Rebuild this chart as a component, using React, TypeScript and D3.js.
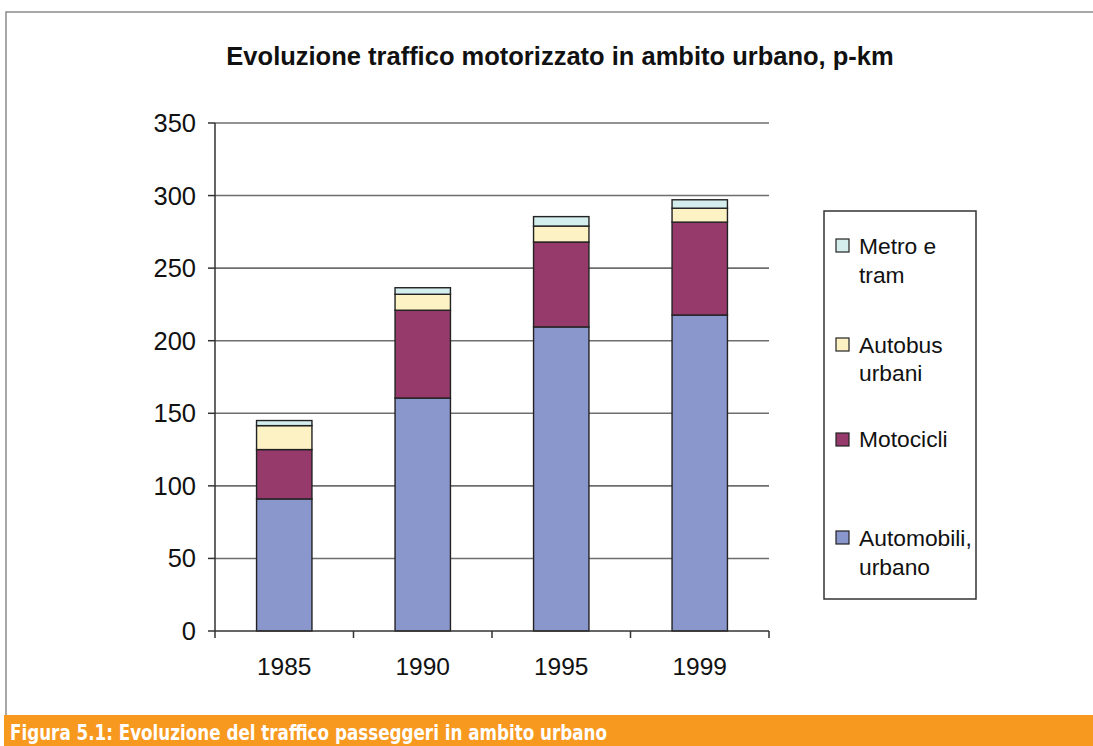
import React from "react";
import * as d3 from "d3";

const years = ["1985", "1990", "1995", "1999"];
const automobili = [91, 160.5, 209.5, 217.7];
const motocicli = [34, 60.5, 58.5, 64];
const autobus = [16.5, 11, 11, 9.6];
const metro = [3.5, 4.5, 6.5, 5.8];
const yTicks = [0, 50, 100, 150, 200, 250, 300, 350];
const seriesNames = ["Automobili, urbano", "Motocicli", "Autobus urbani", "Metro e tram"];
const legendLines = [["Metro e", "tram"], ["Autobus", "urbani"], ["Motocicli"], ["Automobili,", "urbano"]];
const colors = ["#8A97CD", "#953A6B", "#FCF2C3", "#D4EEEE"];

const W = 1093, H = 746;
const left = 215, right = 769, top = 123, bottom = 631;

export default function App() {
  const x = d3.scaleBand<string>().domain(years).range([left, right]).paddingInner(0).paddingOuter(0);
  const y = d3.scaleLinear().domain([0, 350]).range([bottom, top]);
  const rows = years.map((yr, i) => ({ year: yr, a: automobili[i], m: motocicli[i], b: autobus[i], t: metro[i] }));
  const stack = d3.stack<any>().keys(["a", "m", "b", "t"])(rows);
  const bw = x.bandwidth() * 0.4;
  const font = "'Liberation Sans', Arial, sans-serif";
  const legendY = [[246, 275], [345, 373], [439], [538, 567]];
  const swatchY = [246, 345, 440, 538];
  const legendOrder = [3, 2, 1, 0];
  return (
    <svg width={W} height={H} style={{ position: "absolute", left: 0, top: 0 }} fontFamily={font}>
      <rect x={0} y={0} width={W} height={H} fill="#fff" />
      <rect x={6} y={12} width={1100} height={720} fill="none" stroke="#8a8a8a" strokeWidth={1.5} />
      <text x={560} y={65} textAnchor="middle" fontWeight="bold" fontSize={25.5} fill="#111">
        Evoluzione traffico motorizzato in ambito urbano, p-km
      </text>
      {yTicks.filter(v => v > 0).map(v => (
        <line key={v} x1={left} x2={right} y1={y(v)} y2={y(v)} stroke="#6e6e6e" strokeWidth={1.6} />
      ))}
      {stack.map((s, si) => (
        <g key={si}>
          {s.map((d, i) => (
            <rect key={i} x={x(years[i])! + (x.bandwidth() - bw) / 2} width={bw}
              y={y(d[1])} height={y(d[0]) - y(d[1])}
              fill={colors[si]} stroke="#222" strokeWidth={1.4} />
          ))}
        </g>
      ))}
      <line x1={left} x2={left} y1={top} y2={bottom} stroke="#333" strokeWidth={1.5} />
      <line x1={left} x2={right} y1={bottom} y2={bottom} stroke="#333" strokeWidth={1.5} />
      {yTicks.map(v => (
        <g key={v}>
          <line x1={left - 7} x2={left} y1={y(v)} y2={y(v)} stroke="#333" strokeWidth={1.5} />
          <text x={196} y={y(v) + 9} textAnchor="end" fontSize={25.5} fill="#111">{v}</text>
        </g>
      ))}
      {[...years.map(yr => x(yr)!), right].map((px, i) => (
        <line key={i} x1={px} x2={px} y1={bottom} y2={bottom + 7} stroke="#333" strokeWidth={1.5} />
      ))}
      {years.map(yr => (
        <text key={yr} x={x(yr)! + x.bandwidth() / 2} y={675} textAnchor="middle" fontSize={24.5} fill="#111">{yr}</text>
      ))}
      <rect x={824} y={211} width={152} height={388} fill="#fff" stroke="#333" strokeWidth={1.5} />
      {legendOrder.map((si, li) => (
        <g key={si}>
          <rect x={836} y={swatchY[li] - 7} width={13} height={13} fill={colors[si]} stroke="#222" strokeWidth={1.2} />
          {legendLines[li].map((ln, k) => (
            <text key={k} x={859} y={legendY[li][k] + 8} fontSize={22.8} fill="#111">{ln}</text>
          ))}
        </g>
      ))}
      <rect x={4} y={715} width={W} height={31} fill="#F8991F" />
      <text x={10} y={740} fill="#fff" fontWeight="bold" fontSize={21}
        fontFamily="'DejaVu Sans Condensed', 'DejaVu Sans', sans-serif" style={{ fontStretch: "condensed" }}
        textLength={597} lengthAdjust="spacingAndGlyphs">
        Figura 5.1: Evoluzione del traffico passeggeri in ambito urbano
      </text>
    </svg>
  );
}
